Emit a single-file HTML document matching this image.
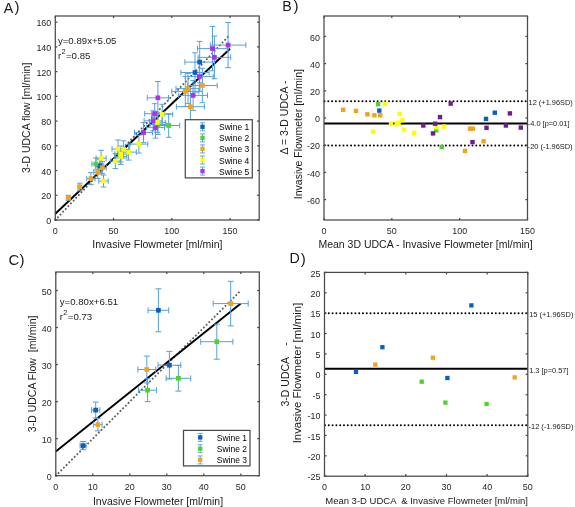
<!DOCTYPE html>
<html><head><meta charset="utf-8"><title>Figure</title>
<style>html,body{margin:0;padding:0;background:#fff;}body{width:575px;height:507px;overflow:hidden;font-family:"Liberation Sans",sans-serif;}svg{display:block;will-change:transform;}</style>
</head><body>
<svg width="575" height="507" viewBox="0 0 575 507" font-family="Liberation Sans, sans-serif">
<rect width="575" height="507" fill="#fff"/>
<line x1="55.30" y1="220.00" x2="230.07" y2="34.55" stroke="#5a5a5a" stroke-width="2.0" stroke-linecap="round" stroke-dasharray="0.01 3.8"/>
<line x1="55.30" y1="213.76" x2="230.07" y2="48.70" stroke="#000" stroke-width="1.9"/>
<g stroke="#55a0dc" stroke-width="1.0" fill="none">
<path d="M95.80 165.80H103.80M99.80 159.80V171.80M97.00 159.80H102.60M97.00 171.80H102.60M95.80 163.00V168.60M103.80 163.00V168.60"/>
<path d="M184.90 62.10H214.50M199.70 41.40V82.80M196.90 41.40H202.50M196.90 82.80H202.50M184.90 59.30V64.90M214.50 59.30V64.90"/>
<path d="M180.90 72.50H209.10M195.00 52.80V92.20M192.20 52.80H197.80M192.20 92.20H197.80M180.90 69.70V75.30M209.10 69.70V75.30"/>
<path d="M91.90 164.00H99.90M95.90 158.00V170.00M93.10 158.00H98.70M93.10 170.00H98.70M91.90 161.20V166.80M99.90 161.20V166.80"/>
<path d="M157.70 125.50H179.70M168.70 113.70V137.30M165.90 113.70H171.50M165.90 137.30H171.50M157.70 122.70V128.30M179.70 122.70V128.30"/>
<path d="M150.00 124.50H166.00M158.00 114.50V134.50M155.20 114.50H160.80M155.20 134.50H160.80M150.00 121.70V127.30M166.00 121.70V127.30"/>
<path d="M66.90 197.80H69.90M68.40 195.30V200.30M65.60 195.30H71.20M65.60 200.30H71.20M66.90 195.00V200.60M69.90 195.00V200.60"/>
<path d="M78.00 187.00H81.60M79.80 183.20V190.80M77.00 183.20H82.60M77.00 190.80H82.60M78.00 184.20V189.80M81.60 184.20V189.80"/>
<path d="M86.70 178.60H95.10M90.90 172.60V184.60M88.10 172.60H93.70M88.10 184.60H93.70M86.70 175.80V181.40M95.10 175.80V181.40"/>
<path d="M93.80 172.40H101.80M97.80 166.40V178.40M95.00 166.40H100.60M95.00 178.40H100.60M93.80 169.60V175.20M101.80 169.60V175.20"/>
<path d="M98.30 167.70H106.30M102.30 161.70V173.70M99.50 161.70H105.10M99.50 173.70H105.10M98.30 164.90V170.50M106.30 164.90V170.50"/>
<path d="M171.80 91.40H198.80M185.30 76.40V106.40M182.50 76.40H188.10M182.50 106.40H188.10M171.80 88.60V94.20M198.80 88.60V94.20"/>
<path d="M176.00 88.60H200.00M188.00 73.60V103.60M185.20 73.60H190.80M185.20 103.60H190.80M176.00 85.80V91.40M200.00 85.80V91.40"/>
<path d="M187.60 85.50H217.20M202.40 68.30V102.70M199.60 68.30H205.20M199.60 102.70H205.20M187.60 82.70V88.30M217.20 82.70V88.30"/>
<path d="M176.40 106.70H204.40M190.40 88.70V124.70M187.60 88.70H193.20M187.60 124.70H193.20M176.40 103.90V109.50M204.40 103.90V109.50"/>
<path d="M96.10 158.30H106.10M101.10 150.30V166.30M98.30 150.30H103.90M98.30 166.30H103.90M96.10 155.50V161.10M106.10 155.50V161.10"/>
<path d="M98.80 181.00H108.20M103.50 175.00V187.00M100.70 175.00H106.30M100.70 187.00H106.30M98.80 178.20V183.80M108.20 178.20V183.80"/>
<path d="M110.30 161.10H120.30M115.30 153.60V168.60M112.50 153.60H118.10M112.50 168.60H118.10M110.30 158.30V163.90M120.30 158.30V163.90"/>
<path d="M112.00 149.00H124.00M118.00 140.00V158.00M115.20 140.00H120.80M115.20 158.00H120.80M112.00 146.20V151.80M124.00 146.20V151.80"/>
<path d="M117.60 149.40H129.60M123.60 140.80V158.00M120.80 140.80H126.40M120.80 158.00H126.40M117.60 146.60V152.20M129.60 146.60V152.20"/>
<path d="M114.80 154.00H126.80M120.80 146.00V162.00M118.00 146.00H123.60M118.00 162.00H123.60M114.80 151.20V156.80M126.80 151.20V156.80"/>
<path d="M114.80 156.40H126.80M120.80 148.40V164.40M118.00 148.40H123.60M118.00 164.40H123.60M114.80 153.60V159.20M126.80 153.60V159.20"/>
<path d="M120.90 152.10H136.30M128.60 144.10V160.10M125.80 144.10H131.40M125.80 160.10H131.40M120.90 149.30V154.90M136.30 149.30V154.90"/>
<path d="M130.00 144.10H147.80M138.90 135.10V153.10M136.10 135.10H141.70M136.10 153.10H141.70M130.00 141.30V146.90M147.80 141.30V146.90"/>
<path d="M151.70 114.30H172.70M162.20 104.30V124.30M159.40 104.30H165.00M159.40 124.30H165.00M151.70 111.50V117.10M172.70 111.50V117.10"/>
<path d="M149.30 122.40H165.30M157.30 112.40V132.40M154.50 112.40H160.10M154.50 132.40H160.10M149.30 119.60V125.20M165.30 119.60V125.20"/>
<path d="M134.50 132.60H152.50M143.50 122.60V142.60M140.70 122.60H146.30M140.70 142.60H146.30M134.50 129.80V135.40M152.50 129.80V135.40"/>
<path d="M144.10 120.80H162.10M153.10 110.80V130.80M150.30 110.80H155.90M150.30 130.80H155.90M144.10 118.00V123.60M162.10 118.00V123.60"/>
<path d="M144.70 113.70H164.70M154.70 103.70V123.70M151.90 103.70H157.50M151.90 123.70H157.50M144.70 110.90V116.50M164.70 110.90V116.50"/>
<path d="M146.50 127.60H164.50M155.50 117.10V138.10M152.70 117.10H158.30M152.70 138.10H158.30M146.50 124.80V130.40M164.50 124.80V130.40"/>
<path d="M147.30 97.80H168.50M157.90 81.50V114.10M155.10 81.50H160.70M155.10 114.10H160.70M147.30 95.00V100.60M168.50 95.00V100.60"/>
<path d="M178.70 95.40H207.50M193.10 80.40V110.40M190.30 80.40H195.90M190.30 110.40H195.90M178.70 92.60V98.20M207.50 92.60V98.20"/>
<path d="M185.30 76.60H213.30M199.30 61.60V91.60M196.50 61.60H202.10M196.50 91.60H202.10M185.30 73.80V79.40M213.30 73.80V79.40"/>
<path d="M197.50 48.60H227.50M212.50 26.40V70.80M209.70 26.40H215.30M209.70 70.80H215.30M197.50 45.80V51.40M227.50 45.80V51.40"/>
<path d="M198.10 57.40H230.70M214.40 36.10V78.70M211.60 36.10H217.20M211.60 78.70H217.20M198.10 54.60V60.20M230.70 54.60V60.20"/>
<path d="M210.30 45.10H245.90M228.10 22.50V67.70M225.30 22.50H230.90M225.30 67.70H230.90M210.30 42.30V47.90M245.90 42.30V47.90"/>
</g>
<rect x="97.45" y="163.45" width="4.70" height="4.70" fill="#0b5fbf"/>
<rect x="197.35" y="59.75" width="4.70" height="4.70" fill="#0b5fbf"/>
<rect x="192.65" y="70.15" width="4.70" height="4.70" fill="#0b5fbf"/>
<rect x="93.55" y="161.65" width="4.70" height="4.70" fill="#4fd22a"/>
<rect x="166.35" y="123.15" width="4.70" height="4.70" fill="#4fd22a"/>
<rect x="155.65" y="122.15" width="4.70" height="4.70" fill="#4fd22a"/>
<rect x="66.05" y="195.45" width="4.70" height="4.70" fill="#f2a31c"/>
<rect x="77.45" y="184.65" width="4.70" height="4.70" fill="#f2a31c"/>
<rect x="88.55" y="176.25" width="4.70" height="4.70" fill="#f2a31c"/>
<rect x="95.45" y="170.05" width="4.70" height="4.70" fill="#f2a31c"/>
<rect x="99.95" y="165.35" width="4.70" height="4.70" fill="#f2a31c"/>
<rect x="182.95" y="89.05" width="4.70" height="4.70" fill="#f2a31c"/>
<rect x="185.65" y="86.25" width="4.70" height="4.70" fill="#f2a31c"/>
<rect x="200.05" y="83.15" width="4.70" height="4.70" fill="#f2a31c"/>
<rect x="188.05" y="104.35" width="4.70" height="4.70" fill="#f2a31c"/>
<rect x="98.75" y="155.95" width="4.70" height="4.70" fill="#ffff00"/>
<rect x="101.15" y="178.65" width="4.70" height="4.70" fill="#ffff00"/>
<rect x="112.95" y="158.75" width="4.70" height="4.70" fill="#ffff00"/>
<rect x="115.65" y="146.65" width="4.70" height="4.70" fill="#ffff00"/>
<rect x="121.25" y="147.05" width="4.70" height="4.70" fill="#ffff00"/>
<rect x="118.45" y="151.65" width="4.70" height="4.70" fill="#ffff00"/>
<rect x="118.45" y="154.05" width="4.70" height="4.70" fill="#ffff00"/>
<rect x="126.25" y="149.75" width="4.70" height="4.70" fill="#ffff00"/>
<rect x="136.55" y="141.75" width="4.70" height="4.70" fill="#ffff00"/>
<rect x="159.85" y="111.95" width="4.70" height="4.70" fill="#ffff00"/>
<rect x="154.95" y="120.05" width="4.70" height="4.70" fill="#ffff00"/>
<rect x="141.15" y="130.25" width="4.70" height="4.70" fill="#ae2ef2"/>
<rect x="150.75" y="118.45" width="4.70" height="4.70" fill="#ae2ef2"/>
<rect x="152.35" y="111.35" width="4.70" height="4.70" fill="#ae2ef2"/>
<rect x="153.15" y="125.25" width="4.70" height="4.70" fill="#ae2ef2"/>
<rect x="155.55" y="95.45" width="4.70" height="4.70" fill="#ae2ef2"/>
<rect x="190.75" y="93.05" width="4.70" height="4.70" fill="#ae2ef2"/>
<rect x="196.95" y="74.25" width="4.70" height="4.70" fill="#ae2ef2"/>
<rect x="210.15" y="46.25" width="4.70" height="4.70" fill="#ae2ef2"/>
<rect x="212.05" y="55.05" width="4.70" height="4.70" fill="#ae2ef2"/>
<rect x="225.75" y="42.75" width="4.70" height="4.70" fill="#ae2ef2"/>
<line x1="55.80" y1="475.70" x2="240.80" y2="290.52" stroke="#5a5a5a" stroke-width="2.0" stroke-linecap="round" stroke-dasharray="0.01 3.8"/>
<line x1="55.80" y1="451.59" x2="240.80" y2="303.44" stroke="#000" stroke-width="1.9"/>
<g stroke="#55a0dc" stroke-width="1.0" fill="none">
<path d="M148.10 310.30H168.70M158.40 288.80V331.80M155.40 288.80H161.40M155.40 331.80H161.40M148.10 307.30V313.30M168.70 307.30V313.30"/>
<path d="M158.00 365.20H180.80M169.40 351.40V379.00M166.40 351.40H172.40M166.40 379.00H172.40M158.00 362.20V368.20M180.80 362.20V368.20"/>
<path d="M91.60 410.10H99.80M95.70 402.10V418.10M92.70 402.10H98.70M92.70 418.10H98.70M91.60 407.10V413.10M99.80 407.10V413.10"/>
<path d="M80.10 445.60H86.10M83.10 441.50V449.70M80.10 441.50H86.10M80.10 449.70H86.10M80.10 442.60V448.60M86.10 442.60V448.60"/>
<path d="M200.70 341.70H232.90M216.80 324.20V359.20M213.80 324.20H219.80M213.80 359.20H219.80M200.70 338.70V344.70M232.90 338.70V344.70"/>
<path d="M166.10 378.30H190.70M178.40 365.50V391.10M175.40 365.50H181.40M175.40 391.10H181.40M166.10 375.30V381.30M190.70 375.30V381.30"/>
<path d="M138.60 390.20H156.60M147.60 378.80V401.60M144.60 378.80H150.60M144.60 401.60H150.60M138.60 387.20V393.20M156.60 387.20V393.20"/>
<path d="M213.20 303.60H248.20M230.70 281.30V325.90M227.70 281.30H233.70M227.70 325.90H233.70M213.20 300.60V306.60M248.20 300.60V306.60"/>
<path d="M137.90 369.50H155.70M146.80 356.10V382.90M143.80 356.10H149.80M143.80 382.90H149.80M137.90 366.50V372.50M155.70 366.50V372.50"/>
<path d="M93.70 424.60H102.10M97.90 418.40V430.80M94.90 418.40H100.90M94.90 430.80H100.90M93.70 421.60V427.60M102.10 421.60V427.60"/>
</g>
<rect x="156.05" y="307.95" width="4.70" height="4.70" fill="#0b5fbf"/>
<rect x="167.05" y="362.85" width="4.70" height="4.70" fill="#0b5fbf"/>
<rect x="93.35" y="407.75" width="4.70" height="4.70" fill="#0b5fbf"/>
<rect x="80.75" y="443.25" width="4.70" height="4.70" fill="#0b5fbf"/>
<rect x="214.45" y="339.35" width="4.70" height="4.70" fill="#4fd22a"/>
<rect x="176.05" y="375.95" width="4.70" height="4.70" fill="#4fd22a"/>
<rect x="145.25" y="387.85" width="4.70" height="4.70" fill="#4fd22a"/>
<rect x="228.35" y="301.25" width="4.70" height="4.70" fill="#f2a31c"/>
<rect x="144.45" y="367.15" width="4.70" height="4.70" fill="#f2a31c"/>
<rect x="95.55" y="422.25" width="4.70" height="4.70" fill="#f2a31c"/>
<line x1="324.50" y1="101.14" x2="527.50" y2="101.14" stroke="#000" stroke-width="2.0" stroke-linecap="round" stroke-dasharray="0.01 3.785"/>
<line x1="324.00" y1="123.44" x2="527.50" y2="123.44" stroke="#000" stroke-width="2"/>
<line x1="324.50" y1="145.54" x2="527.50" y2="145.54" stroke="#000" stroke-width="2.0" stroke-linecap="round" stroke-dasharray="0.01 3.785"/>
<rect x="340.90" y="107.60" width="4.40" height="4.40" fill="#f2a31c"/>
<rect x="353.70" y="108.70" width="4.40" height="4.40" fill="#f2a31c"/>
<rect x="365.20" y="112.10" width="4.40" height="4.40" fill="#f2a31c"/>
<rect x="372.20" y="113.10" width="4.40" height="4.40" fill="#f2a31c"/>
<rect x="378.00" y="113.10" width="4.40" height="4.40" fill="#f2a31c"/>
<rect x="467.80" y="126.50" width="4.40" height="4.40" fill="#f2a31c"/>
<rect x="470.60" y="126.50" width="4.40" height="4.40" fill="#f2a31c"/>
<rect x="462.80" y="148.70" width="4.40" height="4.40" fill="#f2a31c"/>
<rect x="481.40" y="139.10" width="4.40" height="4.40" fill="#f2a31c"/>
<rect x="375.90" y="102.00" width="4.40" height="4.40" fill="#4fd22a"/>
<rect x="434.00" y="128.10" width="4.40" height="4.40" fill="#4fd22a"/>
<rect x="439.60" y="144.80" width="4.40" height="4.40" fill="#4fd22a"/>
<rect x="377.10" y="108.40" width="4.40" height="4.40" fill="#0b5fbf"/>
<rect x="483.80" y="116.70" width="4.40" height="4.40" fill="#0b5fbf"/>
<rect x="492.60" y="110.50" width="4.40" height="4.40" fill="#0b5fbf"/>
<rect x="382.70" y="101.70" width="4.40" height="4.40" fill="#ffff00"/>
<rect x="397.30" y="111.70" width="4.40" height="4.40" fill="#ffff00"/>
<rect x="400.10" y="118.10" width="4.40" height="4.40" fill="#ffff00"/>
<rect x="388.80" y="121.50" width="4.40" height="4.40" fill="#ffff00"/>
<rect x="394.40" y="121.80" width="4.40" height="4.40" fill="#ffff00"/>
<rect x="396.40" y="120.60" width="4.40" height="4.40" fill="#ffff00"/>
<rect x="401.80" y="127.50" width="4.40" height="4.40" fill="#ffff00"/>
<rect x="370.80" y="129.50" width="4.40" height="4.40" fill="#ffff00"/>
<rect x="412.00" y="130.70" width="4.40" height="4.40" fill="#ffff00"/>
<rect x="434.30" y="125.10" width="4.40" height="4.40" fill="#ffff00"/>
<rect x="441.90" y="124.30" width="4.40" height="4.40" fill="#ffff00"/>
<rect x="421.10" y="123.30" width="4.40" height="4.40" fill="#6e1e8e"/>
<rect x="432.90" y="121.50" width="4.40" height="4.40" fill="#6e1e8e"/>
<rect x="437.80" y="114.90" width="4.40" height="4.40" fill="#6e1e8e"/>
<rect x="448.50" y="101.40" width="4.40" height="4.40" fill="#6e1e8e"/>
<rect x="430.80" y="131.20" width="4.40" height="4.40" fill="#6e1e8e"/>
<rect x="470.30" y="139.90" width="4.40" height="4.40" fill="#6e1e8e"/>
<rect x="484.30" y="125.60" width="4.40" height="4.40" fill="#6e1e8e"/>
<rect x="503.70" y="123.30" width="4.40" height="4.40" fill="#6e1e8e"/>
<rect x="507.70" y="111.20" width="4.40" height="4.40" fill="#6e1e8e"/>
<rect x="518.60" y="125.40" width="4.40" height="4.40" fill="#6e1e8e"/>
<line x1="325.00" y1="313.16" x2="527.80" y2="313.16" stroke="#000" stroke-width="2.0" stroke-linecap="round" stroke-dasharray="0.01 3.785"/>
<line x1="324.50" y1="368.84" x2="527.80" y2="368.84" stroke="#000" stroke-width="2"/>
<line x1="325.00" y1="425.25" x2="527.80" y2="425.25" stroke="#000" stroke-width="2.0" stroke-linecap="round" stroke-dasharray="0.01 3.785"/>
<rect x="353.85" y="369.75" width="4.30" height="4.30" fill="#0b5fbf"/>
<rect x="380.25" y="345.05" width="4.30" height="4.30" fill="#0b5fbf"/>
<rect x="445.25" y="375.85" width="4.30" height="4.30" fill="#0b5fbf"/>
<rect x="469.25" y="303.25" width="4.30" height="4.30" fill="#0b5fbf"/>
<rect x="373.15" y="362.45" width="4.30" height="4.30" fill="#f2a31c"/>
<rect x="430.75" y="355.55" width="4.30" height="4.30" fill="#f2a31c"/>
<rect x="512.55" y="375.25" width="4.30" height="4.30" fill="#f2a31c"/>
<rect x="419.55" y="379.55" width="4.30" height="4.30" fill="#4fd22a"/>
<rect x="443.25" y="400.45" width="4.30" height="4.30" fill="#4fd22a"/>
<rect x="484.45" y="401.85" width="4.30" height="4.30" fill="#4fd22a"/>
<rect x="185.30" y="119.70" width="67.00" height="58.20" fill="#fff" stroke="#4a4a4a" stroke-width="1.25"/>
<path d="M202.50 122.80V130.80M200.00 122.80H205.00M200.00 130.80H205.00" stroke="#55a0dc" stroke-width="0.9" fill="none"/>
<rect x="200.35" y="124.65" width="4.30" height="4.30" fill="#0b5fbf"/>
<text x="219.00" y="130.30" font-size="8.5">Swine 1</text>
<path d="M202.50 133.90V141.90M200.00 133.90H205.00M200.00 141.90H205.00" stroke="#55a0dc" stroke-width="0.9" fill="none"/>
<rect x="200.35" y="135.75" width="4.30" height="4.30" fill="#4fd22a"/>
<text x="219.00" y="141.40" font-size="8.5">Swine 2</text>
<path d="M202.50 144.90V152.90M200.00 144.90H205.00M200.00 152.90H205.00" stroke="#55a0dc" stroke-width="0.9" fill="none"/>
<rect x="200.35" y="146.75" width="4.30" height="4.30" fill="#f2a31c"/>
<text x="219.00" y="152.40" font-size="8.5">Swine 3</text>
<path d="M202.50 156.00V164.00M200.00 156.00H205.00M200.00 164.00H205.00" stroke="#55a0dc" stroke-width="0.9" fill="none"/>
<rect x="200.35" y="157.85" width="4.30" height="4.30" fill="#ffff00"/>
<text x="219.00" y="163.50" font-size="8.5">Swine 4</text>
<path d="M202.50 167.10V175.10M200.00 167.10H205.00M200.00 175.10H205.00" stroke="#55a0dc" stroke-width="0.9" fill="none"/>
<rect x="200.35" y="168.95" width="4.30" height="4.30" fill="#ae2ef2"/>
<text x="219.00" y="174.60" font-size="8.5">Swine 5</text>
<rect x="183.50" y="430.40" width="66.50" height="35.50" fill="#fff" stroke="#4a4a4a" stroke-width="1.25"/>
<path d="M200.20 433.40V441.40M197.70 433.40H202.70M197.70 441.40H202.70" stroke="#55a0dc" stroke-width="0.9" fill="none"/>
<rect x="198.05" y="435.25" width="4.30" height="4.30" fill="#0b5fbf"/>
<text x="216.80" y="440.90" font-size="8.5">Swine 1</text>
<path d="M200.20 444.70V452.70M197.70 444.70H202.70M197.70 452.70H202.70" stroke="#55a0dc" stroke-width="0.9" fill="none"/>
<rect x="198.05" y="446.55" width="4.30" height="4.30" fill="#4fd22a"/>
<text x="216.80" y="452.20" font-size="8.5">Swine 2</text>
<path d="M200.20 455.90V463.90M197.70 455.90H202.70M197.70 463.90H202.70" stroke="#55a0dc" stroke-width="0.9" fill="none"/>
<rect x="198.05" y="457.75" width="4.30" height="4.30" fill="#f2a31c"/>
<text x="216.80" y="463.40" font-size="8.5">Swine 3</text>
<g stroke="#4a4a4a" stroke-width="1.25" fill="none">
<rect x="55.30" y="16.00" width="203.90" height="204.00" fill="none"/>
<line x1="55.30" y1="220.00" x2="55.30" y2="217.90"/>
<line x1="55.30" y1="16.00" x2="55.30" y2="18.10"/>
<line x1="113.56" y1="220.00" x2="113.56" y2="217.90"/>
<line x1="113.56" y1="16.00" x2="113.56" y2="18.10"/>
<line x1="171.81" y1="220.00" x2="171.81" y2="217.90"/>
<line x1="171.81" y1="16.00" x2="171.81" y2="18.10"/>
<line x1="230.07" y1="220.00" x2="230.07" y2="217.90"/>
<line x1="230.07" y1="16.00" x2="230.07" y2="18.10"/>
<line x1="55.30" y1="220.00" x2="57.40" y2="220.00"/>
<line x1="259.20" y1="220.00" x2="257.10" y2="220.00"/>
<line x1="55.30" y1="195.27" x2="57.40" y2="195.27"/>
<line x1="259.20" y1="195.27" x2="257.10" y2="195.27"/>
<line x1="55.30" y1="170.55" x2="57.40" y2="170.55"/>
<line x1="259.20" y1="170.55" x2="257.10" y2="170.55"/>
<line x1="55.30" y1="145.82" x2="57.40" y2="145.82"/>
<line x1="259.20" y1="145.82" x2="257.10" y2="145.82"/>
<line x1="55.30" y1="121.09" x2="57.40" y2="121.09"/>
<line x1="259.20" y1="121.09" x2="257.10" y2="121.09"/>
<line x1="55.30" y1="96.36" x2="57.40" y2="96.36"/>
<line x1="259.20" y1="96.36" x2="257.10" y2="96.36"/>
<line x1="55.30" y1="71.64" x2="57.40" y2="71.64"/>
<line x1="259.20" y1="71.64" x2="257.10" y2="71.64"/>
<line x1="55.30" y1="46.91" x2="57.40" y2="46.91"/>
<line x1="259.20" y1="46.91" x2="257.10" y2="46.91"/>
<line x1="55.30" y1="22.18" x2="57.40" y2="22.18"/>
<line x1="259.20" y1="22.18" x2="257.10" y2="22.18"/>
<rect x="324.00" y="16.00" width="203.50" height="204.00" fill="none"/>
<line x1="324.00" y1="220.00" x2="324.00" y2="217.90"/>
<line x1="324.00" y1="16.00" x2="324.00" y2="18.10"/>
<line x1="391.83" y1="220.00" x2="391.83" y2="217.90"/>
<line x1="391.83" y1="16.00" x2="391.83" y2="18.10"/>
<line x1="459.67" y1="220.00" x2="459.67" y2="217.90"/>
<line x1="459.67" y1="16.00" x2="459.67" y2="18.10"/>
<line x1="527.50" y1="220.00" x2="527.50" y2="217.90"/>
<line x1="527.50" y1="16.00" x2="527.50" y2="18.10"/>
<line x1="324.00" y1="199.60" x2="326.10" y2="199.60"/>
<line x1="527.50" y1="199.60" x2="525.40" y2="199.60"/>
<line x1="324.00" y1="172.40" x2="326.10" y2="172.40"/>
<line x1="527.50" y1="172.40" x2="525.40" y2="172.40"/>
<line x1="324.00" y1="145.20" x2="326.10" y2="145.20"/>
<line x1="527.50" y1="145.20" x2="525.40" y2="145.20"/>
<line x1="324.00" y1="118.00" x2="326.10" y2="118.00"/>
<line x1="527.50" y1="118.00" x2="525.40" y2="118.00"/>
<line x1="324.00" y1="90.80" x2="326.10" y2="90.80"/>
<line x1="527.50" y1="90.80" x2="525.40" y2="90.80"/>
<line x1="324.00" y1="63.60" x2="326.10" y2="63.60"/>
<line x1="527.50" y1="63.60" x2="525.40" y2="63.60"/>
<line x1="324.00" y1="36.40" x2="326.10" y2="36.40"/>
<line x1="527.50" y1="36.40" x2="525.40" y2="36.40"/>
<rect x="55.80" y="272.00" width="203.50" height="203.70" fill="none"/>
<line x1="55.80" y1="475.70" x2="55.80" y2="473.60"/>
<line x1="55.80" y1="272.00" x2="55.80" y2="274.10"/>
<line x1="92.80" y1="475.70" x2="92.80" y2="473.60"/>
<line x1="92.80" y1="272.00" x2="92.80" y2="274.10"/>
<line x1="129.80" y1="475.70" x2="129.80" y2="473.60"/>
<line x1="129.80" y1="272.00" x2="129.80" y2="274.10"/>
<line x1="166.80" y1="475.70" x2="166.80" y2="473.60"/>
<line x1="166.80" y1="272.00" x2="166.80" y2="274.10"/>
<line x1="203.80" y1="475.70" x2="203.80" y2="473.60"/>
<line x1="203.80" y1="272.00" x2="203.80" y2="274.10"/>
<line x1="240.80" y1="475.70" x2="240.80" y2="473.60"/>
<line x1="240.80" y1="272.00" x2="240.80" y2="274.10"/>
<line x1="55.80" y1="475.70" x2="57.90" y2="475.70"/>
<line x1="259.30" y1="475.70" x2="257.20" y2="475.70"/>
<line x1="55.80" y1="438.66" x2="57.90" y2="438.66"/>
<line x1="259.30" y1="438.66" x2="257.20" y2="438.66"/>
<line x1="55.80" y1="401.63" x2="57.90" y2="401.63"/>
<line x1="259.30" y1="401.63" x2="257.20" y2="401.63"/>
<line x1="55.80" y1="364.59" x2="57.90" y2="364.59"/>
<line x1="259.30" y1="364.59" x2="257.20" y2="364.59"/>
<line x1="55.80" y1="327.55" x2="57.90" y2="327.55"/>
<line x1="259.30" y1="327.55" x2="257.20" y2="327.55"/>
<line x1="55.80" y1="290.52" x2="57.90" y2="290.52"/>
<line x1="259.30" y1="290.52" x2="257.20" y2="290.52"/>
<rect x="324.50" y="272.40" width="203.30" height="203.80" fill="none"/>
<line x1="324.50" y1="476.20" x2="324.50" y2="474.10"/>
<line x1="324.50" y1="272.40" x2="324.50" y2="274.50"/>
<line x1="365.16" y1="476.20" x2="365.16" y2="474.10"/>
<line x1="365.16" y1="272.40" x2="365.16" y2="274.50"/>
<line x1="405.82" y1="476.20" x2="405.82" y2="474.10"/>
<line x1="405.82" y1="272.40" x2="405.82" y2="274.50"/>
<line x1="446.48" y1="476.20" x2="446.48" y2="474.10"/>
<line x1="446.48" y1="272.40" x2="446.48" y2="274.50"/>
<line x1="487.14" y1="476.20" x2="487.14" y2="474.10"/>
<line x1="487.14" y1="272.40" x2="487.14" y2="274.50"/>
<line x1="527.80" y1="476.20" x2="527.80" y2="474.10"/>
<line x1="527.80" y1="272.40" x2="527.80" y2="274.50"/>
<line x1="324.50" y1="476.20" x2="326.60" y2="476.20"/>
<line x1="527.80" y1="476.20" x2="525.70" y2="476.20"/>
<line x1="324.50" y1="455.82" x2="326.60" y2="455.82"/>
<line x1="527.80" y1="455.82" x2="525.70" y2="455.82"/>
<line x1="324.50" y1="435.44" x2="326.60" y2="435.44"/>
<line x1="527.80" y1="435.44" x2="525.70" y2="435.44"/>
<line x1="324.50" y1="415.06" x2="326.60" y2="415.06"/>
<line x1="527.80" y1="415.06" x2="525.70" y2="415.06"/>
<line x1="324.50" y1="394.68" x2="326.60" y2="394.68"/>
<line x1="527.80" y1="394.68" x2="525.70" y2="394.68"/>
<line x1="324.50" y1="374.30" x2="326.60" y2="374.30"/>
<line x1="527.80" y1="374.30" x2="525.70" y2="374.30"/>
<line x1="324.50" y1="353.92" x2="326.60" y2="353.92"/>
<line x1="527.80" y1="353.92" x2="525.70" y2="353.92"/>
<line x1="324.50" y1="333.54" x2="326.60" y2="333.54"/>
<line x1="527.80" y1="333.54" x2="525.70" y2="333.54"/>
<line x1="324.50" y1="313.16" x2="326.60" y2="313.16"/>
<line x1="527.80" y1="313.16" x2="525.70" y2="313.16"/>
<line x1="324.50" y1="292.78" x2="326.60" y2="292.78"/>
<line x1="527.80" y1="292.78" x2="525.70" y2="292.78"/>
<line x1="324.50" y1="272.40" x2="326.60" y2="272.40"/>
<line x1="527.80" y1="272.40" x2="525.70" y2="272.40"/>
</g>
<g font-family="Liberation Sans, sans-serif" fill="#262626" font-size="9.6">
<text transform="translate(55.30 233.90) scale(0.93 1)" text-anchor="middle">0</text>
<text transform="translate(113.56 233.90) scale(0.93 1)" text-anchor="middle">50</text>
<text transform="translate(171.81 233.90) scale(0.93 1)" text-anchor="middle">100</text>
<text transform="translate(230.07 233.90) scale(0.93 1)" text-anchor="middle">150</text>
<text transform="translate(51.30 224.10) scale(0.93 1)" text-anchor="end">0</text>
<text transform="translate(51.30 199.37) scale(0.93 1)" text-anchor="end">20</text>
<text transform="translate(51.30 174.65) scale(0.93 1)" text-anchor="end">40</text>
<text transform="translate(51.30 149.92) scale(0.93 1)" text-anchor="end">60</text>
<text transform="translate(51.30 125.19) scale(0.93 1)" text-anchor="end">80</text>
<text transform="translate(51.30 100.46) scale(0.93 1)" text-anchor="end">100</text>
<text transform="translate(51.30 75.74) scale(0.93 1)" text-anchor="end">120</text>
<text transform="translate(51.30 51.01) scale(0.93 1)" text-anchor="end">140</text>
<text transform="translate(51.30 26.28) scale(0.93 1)" text-anchor="end">160</text>
<text transform="translate(324.00 233.90) scale(0.93 1)" text-anchor="middle">0</text>
<text transform="translate(391.83 233.90) scale(0.93 1)" text-anchor="middle">50</text>
<text transform="translate(459.67 233.90) scale(0.93 1)" text-anchor="middle">100</text>
<text transform="translate(527.50 233.90) scale(0.93 1)" text-anchor="middle">150</text>
<text transform="translate(320.00 203.70) scale(0.93 1)" text-anchor="end">-60</text>
<text transform="translate(320.00 176.50) scale(0.93 1)" text-anchor="end">-40</text>
<text transform="translate(320.00 149.30) scale(0.93 1)" text-anchor="end">-20</text>
<text transform="translate(320.00 122.10) scale(0.93 1)" text-anchor="end">0</text>
<text transform="translate(320.00 94.90) scale(0.93 1)" text-anchor="end">20</text>
<text transform="translate(320.00 67.70) scale(0.93 1)" text-anchor="end">40</text>
<text transform="translate(320.00 40.50) scale(0.93 1)" text-anchor="end">60</text>
<text transform="translate(55.80 489.60) scale(0.93 1)" text-anchor="middle">0</text>
<text transform="translate(92.80 489.60) scale(0.93 1)" text-anchor="middle">10</text>
<text transform="translate(129.80 489.60) scale(0.93 1)" text-anchor="middle">20</text>
<text transform="translate(166.80 489.60) scale(0.93 1)" text-anchor="middle">30</text>
<text transform="translate(203.80 489.60) scale(0.93 1)" text-anchor="middle">40</text>
<text transform="translate(240.80 489.60) scale(0.93 1)" text-anchor="middle">50</text>
<text transform="translate(51.80 479.80) scale(0.93 1)" text-anchor="end">0</text>
<text transform="translate(51.80 442.76) scale(0.93 1)" text-anchor="end">10</text>
<text transform="translate(51.80 405.73) scale(0.93 1)" text-anchor="end">20</text>
<text transform="translate(51.80 368.69) scale(0.93 1)" text-anchor="end">30</text>
<text transform="translate(51.80 331.65) scale(0.93 1)" text-anchor="end">40</text>
<text transform="translate(51.80 294.62) scale(0.93 1)" text-anchor="end">50</text>
<text transform="translate(324.50 490.10) scale(0.93 1)" text-anchor="middle">0</text>
<text transform="translate(365.16 490.10) scale(0.93 1)" text-anchor="middle">10</text>
<text transform="translate(405.82 490.10) scale(0.93 1)" text-anchor="middle">20</text>
<text transform="translate(446.48 490.10) scale(0.93 1)" text-anchor="middle">30</text>
<text transform="translate(487.14 490.10) scale(0.93 1)" text-anchor="middle">40</text>
<text transform="translate(527.80 490.10) scale(0.93 1)" text-anchor="middle">50</text>
<text transform="translate(320.50 480.30) scale(0.93 1)" text-anchor="end">-25</text>
<text transform="translate(320.50 459.92) scale(0.93 1)" text-anchor="end">-20</text>
<text transform="translate(320.50 439.54) scale(0.93 1)" text-anchor="end">-15</text>
<text transform="translate(320.50 419.16) scale(0.93 1)" text-anchor="end">-10</text>
<text transform="translate(320.50 398.78) scale(0.93 1)" text-anchor="end">-5</text>
<text transform="translate(320.50 378.40) scale(0.93 1)" text-anchor="end">0</text>
<text transform="translate(320.50 358.02) scale(0.93 1)" text-anchor="end">5</text>
<text transform="translate(320.50 337.64) scale(0.93 1)" text-anchor="end">10</text>
<text transform="translate(320.50 317.26) scale(0.93 1)" text-anchor="end">15</text>
<text transform="translate(320.50 296.88) scale(0.93 1)" text-anchor="end">20</text>
<text transform="translate(320.50 276.50) scale(0.93 1)" text-anchor="end">25</text>
</g>
<g font-family="Liberation Sans, sans-serif" fill="#1a1a1a">
<text transform="translate(3.8 12.6) scale(0.95 1)" font-size="15">A</text>
<text transform="translate(282.2 11.0) scale(0.95 1)" font-size="15">B</text>
<text transform="translate(8.4 264.7) scale(1.0 1)" font-size="15">C</text>
<text transform="translate(289.4 263.1) scale(0.95 1)" font-size="15">D</text>
<text x="14.6" y="11.9" font-size="15">)</text>
<text x="293.6" y="11.2" font-size="15">)</text>
<text x="19.6" y="264.9" font-size="15">)</text>
<text x="300.8" y="263.9" font-size="15">)</text>
<text x="157.4" y="248.3" font-size="10.5" text-anchor="middle">Invasive Flowmeter [ml/min]</text>
<text x="425.5" y="247.6" font-size="10.5" text-anchor="middle">Mean 3D UDCA - Invasive Flowmeter [ml/min]</text>
<text x="158.0" y="504.8" font-size="10.5" text-anchor="middle">Invasive Flowmeter [ml/min]</text>
<text x="426.6" y="504.2" font-size="9.5" text-anchor="middle" xml:space="preserve">Mean 3-D UDCA  &amp; Invasive Flowmeter [ml/min]</text>
<text transform="translate(30.0 117.8) rotate(-90)" font-size="10.5" text-anchor="middle" xml:space="preserve">3-D UDCA flow [ml/min]</text>
<text transform="translate(287.8 117.5) rotate(-90)" font-size="10.5" text-anchor="middle" xml:space="preserve">Δ = 3-D UDCA -</text>
<text transform="translate(301.8 134.1) rotate(-90)" font-size="10.5" text-anchor="middle" xml:space="preserve">Invasive Flowmeter [ml/min]</text>
<text transform="translate(35.6 373.8) rotate(-90)" font-size="10.5" text-anchor="middle" xml:space="preserve">3-D UDCA Flow  [ml/min]</text>
<text transform="translate(288.6 374.4) rotate(-90)" font-size="10.5" text-anchor="middle" xml:space="preserve">3-D UDCA    -</text>
<text transform="translate(301.2 373.0) rotate(-90)" font-size="11.35" text-anchor="middle" xml:space="preserve">Invasive Flowmeter [ml/min]</text>
<text transform="translate(57.9 44.3) scale(0.985 1)" font-size="9.8">y=0.89x+5.05</text>
<text transform="translate(57.9 58.5) scale(0.985 1)" font-size="9.8">r<tspan dy="-4.4" dx="0.3" font-size="7.6">2</tspan><tspan dy="4.4" dx="0.4">=0.85</tspan></text>
<text transform="translate(59.7 305.4) scale(0.985 1)" font-size="9.8">y=0.80x+6.51</text>
<text transform="translate(59.7 319.59999999999997) scale(0.985 1)" font-size="9.8">r<tspan dy="-4.4" dx="0.3" font-size="7.6">2</tspan><tspan dy="4.4" dx="0.4">=0.73</tspan></text>
<text x="528.6" y="104.9" font-size="7.4">12 (+1.96SD)</text>
<text x="527.8" y="125.7" font-size="7.4">-4.0 [p=0.01]</text>
<text x="527.8" y="148.5" font-size="7.4">-20 (-1.96SD)</text>
<text x="529.2" y="316.6" font-size="7.4">15 (+1.96SD)</text>
<text x="529.2" y="373.2" font-size="7.4">1.3 [p=0.57]</text>
<text x="528.6" y="429.2" font-size="7.4">-12 (-1.96SD)</text>
</g>
</svg>
</body></html>
